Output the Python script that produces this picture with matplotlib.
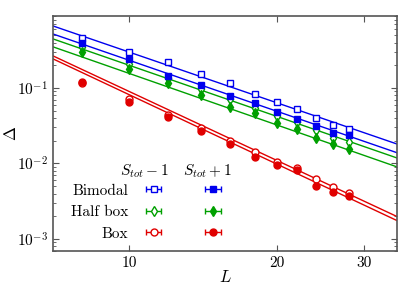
import numpy as np
import matplotlib
matplotlib.use("Agg")
import matplotlib.pyplot as plt
from matplotlib.ticker import LogLocator, NullFormatter, NullLocator, FixedLocator, FixedFormatter

plt.rcParams['font.family'] = 'serif'
plt.rcParams['font.serif'] = ['cmr10']
plt.rcParams['mathtext.fontset'] = 'cm'
plt.rcParams['axes.formatter.use_mathtext'] = True

# system sizes
L = [8, 10, 12, 14, 16, 18, 20, 22, 24, 26, 28]

# Delta values, S_tot - 1 (open) and S_tot + 1 (filled)
bimodal_minus = [0.459, 0.300, 0.221, 0.153, 0.116, 0.0833, 0.0653, 0.0527, 0.0401, 0.0324, 0.0286]
bimodal_plus = [0.394, 0.242, 0.144, 0.110, 0.0783, 0.0632, 0.0481, 0.0388, 0.0314, 0.0253, 0.0238]
halfbox_minus = [0.35, 0.208, 0.136, 0.097, 0.0715, 0.0543, 0.0426, 0.0355, 0.0278, 0.0218, 0.0193]
halfbox_plus = [0.300, 0.179, 0.116, 0.0807, 0.056, 0.0467, 0.0344, 0.0286, 0.022, 0.0180, 0.0156]
box_minus = [0.118, 0.0715, 0.0433, 0.0295, 0.0199, 0.0142, 0.0106, 0.0087, 0.00632, 0.00489, 0.00407]
box_plus = [0.120, 0.0653, 0.0413, 0.0269, 0.0181, 0.0122, 0.00955, 0.0082, 0.00504, 0.0042, 0.00371]

# power-law fits: Delta = A * (L/10)^(-p)
fit_A = {'bimodal': (0.299, 0.233), 'halfbox': (0.200, 0.156), 'box': (0.0899, 0.0815)}
fit_p = {'bimodal': (2.234, 2.247), 'halfbox': (2.253, 2.272), 'box': (3.04, 3.06)}

colors = {'bimodal': '#0000ee', 'halfbox': '#00a000', 'box': '#e00000'}
markers = {'bimodal': 's', 'halfbox': 'd', 'box': 'o'}
msizes = {'bimodal': 4.5, 'halfbox': 5, 'box': 5}
names = {'bimodal': 'Bimodal', 'halfbox': 'Half box', 'box': 'Box'}
series = {'bimodal': (bimodal_minus, bimodal_plus),
          'halfbox': (halfbox_minus, halfbox_plus),
          'box': (box_minus, box_plus)}

fig = plt.figure(figsize=(4.09, 2.86), dpi=100)
ax = fig.add_axes([0.130, 0.122, 0.841, 0.822])

xfit = np.geomspace(6.5, 36, 50)
h_minus, h_plus = {}, {}
for key in ['box', 'halfbox', 'bimodal']:
    c = colors[key]
    for k in range(2):
        ax.plot(xfit, fit_A[key][k] * (xfit / 10.0) ** (-fit_p[key][k]), '-', color=c, lw=1.0)
    ym, yp = series[key]
    h_minus[key] = ax.errorbar(L, ym, xerr=np.zeros(len(L)), fmt=markers[key], color=c, mfc='white',
                               mec=c, mew=1.0, ms=msizes[key], capsize=2, elinewidth=1)
    h_plus[key] = ax.errorbar(L, yp, xerr=np.zeros(len(L)), fmt=markers[key], color=c, mfc=c,
                              mec=c, mew=1.0, ms=msizes[key], capsize=2, elinewidth=1)

order = ['bimodal', 'halfbox', 'box']
handles = [h_minus[k] for k in order] + [h_plus[k] for k in order]
labels = [names[k] for k in order] + ['', '', '']
ax.legend(handles, labels, ncol=2, markerfirst=False, frameon=False,
          loc='upper left', bbox_to_anchor=(0.052, 0.285), borderaxespad=0, borderpad=0,
          handlelength=0.8, handletextpad=1.27, columnspacing=1.8, labelspacing=0.5,
          fontsize=11)
ax.text(0.265, 0.34, r'$S_{tot}-1$', transform=ax.transAxes, fontsize=11, ha='center', va='center')
ax.text(0.448, 0.34, r'$S_{tot}+1$', transform=ax.transAxes, fontsize=11, ha='center', va='center')

ax.set_xscale('log')
ax.set_yscale('log')
ax.set_xlim(7.0, 35.1)
ax.set_ylim(6.9e-4, 0.9)
ax.xaxis.set_major_locator(FixedLocator([10, 20, 30]))
ax.xaxis.set_major_formatter(FixedFormatter(['10', '20', '30']))
ax.xaxis.set_minor_locator(NullLocator())
ax.yaxis.set_major_locator(LogLocator(base=10))
ax.yaxis.set_minor_locator(LogLocator(base=10, subs=np.arange(2, 10)))
ax.yaxis.set_minor_formatter(NullFormatter())

for s in ax.spines.values():
    s.set_color('#555555')
    s.set_linewidth(1.2)
ax.tick_params(which='both', direction='in', top=True, right=True, color='#555555', labelsize=11)
ax.tick_params(which='major', length=4, width=0.8)
ax.tick_params(which='minor', length=2, width=0.6)

ax.set_xlabel(r'$L$', fontsize=12)
ax.set_ylabel(r'$\Delta$', fontsize=12)
ax.xaxis.set_label_coords(0.5, -0.075)
ax.yaxis.set_label_coords(-0.098, 0.5)

fig.savefig('out.png', dpi=100)
